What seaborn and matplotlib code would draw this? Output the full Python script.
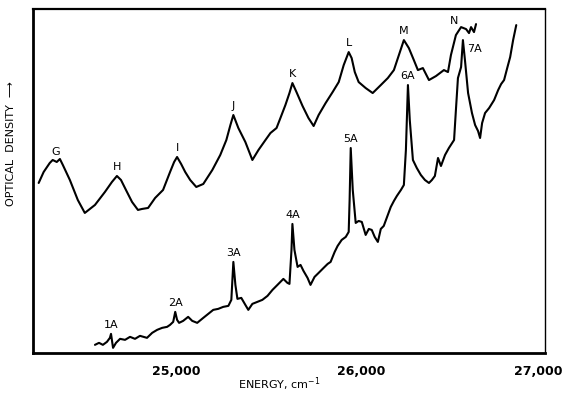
import matplotlib
matplotlib.use("Agg")
import matplotlib.pyplot as plt
import matplotlib.transforms as mtransforms
import numpy as np
import pandas as pd
import seaborn as sns

# upper spectrum (bands G .. N), energy in cm-1, optical density in arbitrary units
upper_energy = [24255, 24282, 24315, 24331, 24353, 24370, 24386, 24424, 24467, 24505,
                24560, 24614, 24652, 24679, 24701, 24728, 24761, 24793, 24815, 24848,
                24886, 24929, 24967, 24989, 25005, 25027, 25049, 25076, 25109, 25147,
                25196, 25239, 25272, 25294, 25310, 25337, 25375, 25413, 25446, 25484,
                25511, 25544, 25565, 25592, 25614, 25630, 25652, 25685, 25717, 25745,
                25772, 25810, 25848, 25881, 25908, 25935, 25951, 25968, 25989, 26027,
                26065, 26109, 26147, 26180, 26207, 26234, 26261, 26288, 26310, 26337,
                26370, 26408, 26451, 26473, 26489, 26516, 26544, 26571, 26587, 26598,
                26614, 26625]
upper_od = [1.70, 1.81, 1.90, 1.93, 1.91, 1.94, 1.88, 1.73, 1.53, 1.40,
            1.48, 1.61, 1.71, 1.77, 1.73, 1.63, 1.51, 1.43, 1.44, 1.45,
            1.55, 1.63, 1.81, 1.91, 1.96, 1.89, 1.81, 1.73, 1.66, 1.69,
            1.83, 1.98, 2.13, 2.28, 2.38, 2.25, 2.11, 1.93, 2.03, 2.13,
            2.20, 2.25, 2.35, 2.48, 2.60, 2.70, 2.61, 2.47, 2.35, 2.27,
            2.38, 2.50, 2.61, 2.71, 2.88, 3.01, 2.95, 2.81, 2.71, 2.65,
            2.60, 2.68, 2.75, 2.83, 2.98, 3.13, 3.05, 2.93, 2.83, 2.85,
            2.73, 2.77, 2.83, 2.81, 2.98, 3.18, 3.26, 3.24, 3.20, 3.26,
            3.21, 3.29]

# lower spectrum (sharp lines 1A .. 7A)
lower_energy = [24560, 24582, 24603, 24625, 24641, 24647, 24658, 24674, 24696, 24723,
                24750, 24777, 24804, 24842, 24870, 24897, 24924, 24951, 24967, 24984,
                24995, 25005, 25016, 25038, 25065, 25087, 25114, 25147, 25174, 25201,
                25228, 25255, 25283, 25299, 25310, 25321, 25332, 25353, 25375, 25391,
                25413, 25440, 25467, 25495, 25522, 25549, 25581, 25603, 25614, 25625,
                25630, 25641, 25658, 25674, 25690, 25712, 25728, 25750, 25772, 25799,
                25821, 25837, 25859, 25875, 25897, 25919, 25935, 25940, 25946, 25957,
                25973, 25989, 26006, 26027, 26044, 26060, 26076, 26093, 26109, 26125,
                26141, 26163, 26180, 26196, 26218, 26234, 26245, 26256, 26266, 26283,
                26304, 26326, 26348, 26370, 26386, 26402, 26419, 26435, 26457, 26478,
                26506, 26516, 26527, 26544, 26554, 26565, 26582, 26603, 26620, 26636,
                26647, 26658, 26674, 26696, 26723, 26745, 26761, 26777, 26794, 26810,
                26826, 26843]
lower_od = [0.08, 0.10, 0.08, 0.11, 0.15, 0.19, 0.05, 0.10, 0.14, 0.13,
            0.16, 0.14, 0.17, 0.15, 0.20, 0.23, 0.25, 0.26, 0.28, 0.31,
            0.41, 0.33, 0.30, 0.32, 0.36, 0.32, 0.30, 0.35, 0.39, 0.43,
            0.44, 0.46, 0.47, 0.53, 0.91, 0.68, 0.54, 0.55, 0.48, 0.43,
            0.49, 0.51, 0.53, 0.57, 0.63, 0.68, 0.74, 0.70, 0.69, 1.03,
            1.29, 1.03, 0.86, 0.88, 0.82, 0.75, 0.68, 0.76, 0.80, 0.85,
            0.89, 0.91, 1.01, 1.07, 1.13, 1.16, 1.21, 1.53, 2.05, 1.63,
            1.30, 1.32, 1.31, 1.18, 1.24, 1.23, 1.16, 1.11, 1.24, 1.27,
            1.35, 1.46, 1.52, 1.57, 1.63, 1.68, 2.03, 2.68, 2.33, 1.93,
            1.85, 1.78, 1.73, 1.70, 1.73, 1.77, 1.95, 1.87, 1.98, 2.05,
            2.13, 2.43, 2.75, 2.86, 3.13, 2.93, 2.60, 2.40, 2.28, 2.22,
            2.15, 2.30, 2.40, 2.45, 2.53, 2.63, 2.69, 2.73, 2.85, 2.96,
            3.13, 3.28]

upper_labels = ["G", "H", "I", "J", "K", "L", "M", "N"]
upper_peaks = [24345, 24679, 25005, 25310, 25630, 25935, 26234, 26544]
lower_labels = ["1A", "2A", "3A", "4A", "5A", "6A", "7A"]
lower_peaks = [24647, 24995, 25310, 25630, 25946, 26256, 26554]

tick_pos = [25000, 26000, 27000]
tick_text = ["25,000", "26,000", "27,000"]

sns.set_theme(style="white", rc={"text.color": "black", "axes.labelcolor": "black",
                                 "xtick.color": "black"})
plt.rcParams["font.family"] = ["DejaVu Sans"]

fig = plt.figure(figsize=(5.65, 3.96), dpi=100)
ax = fig.add_axes([0.058, 0.109, 0.907, 0.868])

df_up = pd.DataFrame({"energy": upper_energy, "od": upper_od})
df_lo = pd.DataFrame({"energy": lower_energy, "od": lower_od})
sns.lineplot(data=df_up, x="energy", y="od", color="black", lw=1.5, ax=ax)
sns.lineplot(data=df_lo, x="energy", y="od", color="black", lw=1.5, ax=ax)

ax.set_xlim(24223, 27000)
ax.set_ylim(0, 3.44)

# band labels sit just above each peak
offsets_up = {"N": (-5, 1)}
for lab, e in zip(upper_labels, upper_peaks):
    y = np.interp(e, upper_energy, upper_od)
    dx, dy = offsets_up.get(lab, (0, 3))
    ax.annotate(lab, (e, y), xytext=(dx, dy), textcoords="offset points",
                ha="center", va="bottom", fontsize=8, color="black")

offsets_lo = {"7A": (8, -10)}
for lab, e in zip(lower_labels, lower_peaks):
    y = np.interp(e, lower_energy, lower_od)
    dx, dy = offsets_lo.get(lab, (0, 3))
    ax.annotate(lab, (e, y), xytext=(dx, dy), textcoords="offset points",
                ha="center", va="bottom", fontsize=8, color="black")

ax.set_xticks(tick_pos)
ax.set_xticklabels(tick_text, fontsize=9, fontweight="bold")
ax.set_yticks([])
ax.tick_params(axis="x", direction="in", length=5, width=1.2, color="black",
               labelcolor="black", pad=9)
# last label hugs the right edge, nudge it left like the original
last = ax.get_xticklabels()[-1]
last.set_transform(last.get_transform() + mtransforms.ScaledTranslation(-5 / 72, 0, fig.dpi_scale_trans))

for side, w in [("left", 2.0), ("bottom", 2.0), ("top", 1.6), ("right", 1.0)]:
    ax.spines[side].set_visible(True)
    ax.spines[side].set_color("black")
    ax.spines[side].set_linewidth(w)

ax.set_xlabel("ENERGY, cm$^{-1}$", fontsize=8)
ax.xaxis.set_label_coords(0.48, -0.065)
ax.set_ylabel("OPTICAL  DENSITY  \u27f6", fontsize=8)
ax.yaxis.set_label_coords(-0.032, 0.61)

fig.savefig("out.png", dpi=100)
